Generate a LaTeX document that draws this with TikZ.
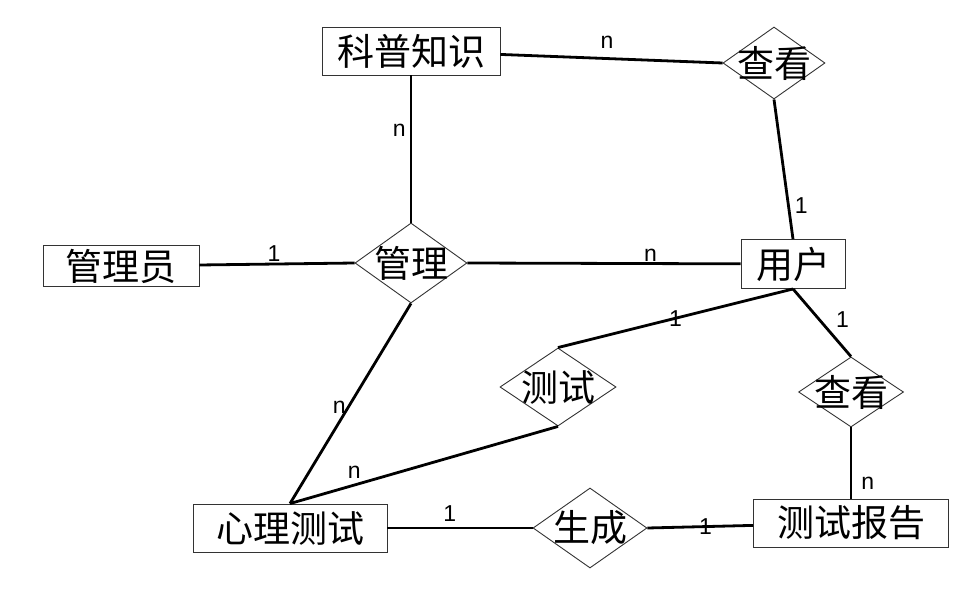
\documentclass[tikz,border=0pt]{standalone}
\usepackage{fontspec}
\setmainfont{Liberation Sans}
\newfontfamily\cjk{Noto Sans CJK SC}
\usetikzlibrary{shapes.geometric}

\begin{document}
\begin{tikzpicture}[x=1pt,y=-1pt,line width=2.8pt,draw=black]
    \tikzstyle{entity}=[rectangle,draw=black!80,line width=0.9pt,font=\cjk\fontsize{37}{37}\selectfont,inner sep=0pt,minimum height=48pt]
    \tikzstyle{relation}=[diamond,draw=black!80,line width=0.9pt,font=\cjk\fontsize{37}{37}\selectfont,inner sep=-20pt,aspect=1.45,minimum width=110pt,minimum height=78pt]
    \tikzstyle{card}=[font=\fontsize{23}{23}\selectfont,inner sep=1pt]
    \useasboundingbox (0,0) rectangle (970,610);
    % Entities
    \node[entity, minimum width=178pt] (kepu) at (411,51) {科普知识};
    \node[entity, minimum width=156pt, minimum height=41pt] (admin) at (121,266) {管理员};
    \node[entity, minimum width=104pt, minimum height=49pt] (user) at (793,264) {用户};
    \node[entity, minimum width=194pt] (xinli) at (290,528) {心理测试};
    \node[entity, minimum width=195pt] (report) at (851,523) {测试报告};
    % Relations
    \node[relation, minimum width=102pt, minimum height=72pt] (view1) at (774,63) {查看};
    \node[relation, minimum width=112pt, minimum height=80pt] (manage) at (411,263) {管理};
    \node[relation, minimum width=116pt] (test) at (558,387) {测试};
    \node[relation, minimum width=105pt, minimum height=70pt] (view2) at (851,392) {查看};
    \node[relation, minimum width=114pt, minimum height=80pt] (gen) at (590,528) {生成};
    % Connections and cardinalities
    \path (kepu) edge node[card,pos=0.48,above=8pt] {n} (view1.west);
    \path (kepu) edge node[card,pos=0.37,left=3pt] {n} (manage.north);
    \path (view1.south) edge node[card,pos=0.76,right=4pt] {1} (user.north);
    \path (admin) edge node[card,pos=0.48,above=0pt] {1} (manage.west);
    \path (manage.east) edge node[card,pos=0.67,above=0pt] {n} (user);
    \path (user.south) edge node[card,midway] {1} (test.north);
    \path (user.south) edge node[card,pos=0.46,right=14pt] {1} (view2.north);
    \path (manage.south) edge node[card,pos=0.52,left=0pt] {n} (xinli.north);
    \path (test.south) edge node[card,pos=0.76,above=4pt] {n} (xinli.north);
    \path (view2.south) edge node[card,pos=0.79,right=8pt] {n} (report.north);
    \path (xinli) edge node[card,pos=0.43,above=4pt] {1} (gen.west);
    \path (gen.east) edge node[card,pos=0.55] {1} (report);
\end{tikzpicture}
\end{document}
